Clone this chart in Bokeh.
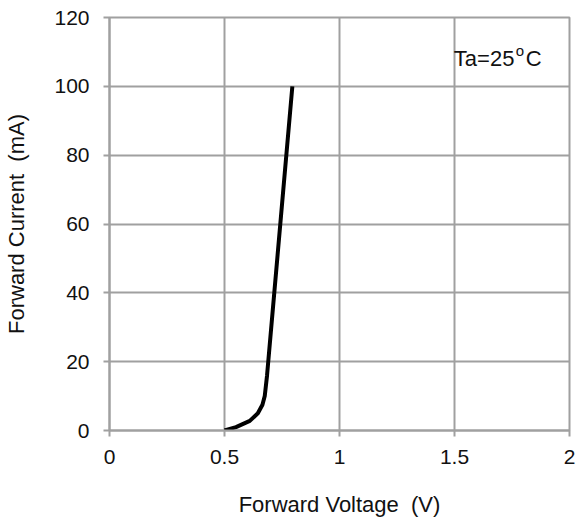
from bokeh.plotting import figure
from bokeh.models import Range1d, Label, FixedTicker
from bokeh.embed import file_html
from bokeh.resources import INLINE

# data
voltage = [0.50, 0.55, 0.61, 0.645, 0.665, 0.675, 0.685, 0.795]
current = [0.0, 1.0, 2.8, 5.0, 7.5, 10.0, 16.0, 100.0]
x_ticks = [0, 0.5, 1, 1.5, 2]
y_ticks = [0, 20, 40, 60, 80, 100, 120]

FONT = "Liberation Sans"
GRID = "#a0a0a0"

p = figure(width=576, height=519, output_backend="svg", toolbar_location=None,
           x_range=Range1d(0, 2), y_range=Range1d(0, 120),
           min_border_left=109, min_border_right=7, min_border_top=17, min_border_bottom=88)
p.background_fill_color = "white"
p.border_fill_color = "white"
p.outline_line_color = GRID
p.outline_line_width = 2

p.line(voltage, current, line_color="black", line_width=4)

for ax in (p.xaxis, p.yaxis):
    ax.axis_line_color = GRID
    ax.axis_line_width = 2
    ax.major_tick_line_color = GRID
    ax.major_tick_line_width = 2
    ax.major_tick_out = 6
    ax.major_tick_in = 0
    ax.minor_tick_line_color = None
    ax.major_label_text_font = FONT
    ax.major_label_text_font_size = "21px"
    ax.major_label_text_color = "#111111"
    ax.axis_label_text_font = FONT
    ax.axis_label_text_font_size = "22px"
    ax.axis_label_text_font_style = "normal"
    ax.axis_label_text_color = "#111111"

p.xaxis.ticker = FixedTicker(ticks=x_ticks)
p.yaxis.ticker = FixedTicker(ticks=y_ticks)
p.xaxis.major_label_overrides = {0: "0", 0.5: "0.5", 1: "1", 1.5: "1.5", 2: "2"}
p.xaxis.axis_label = "Forward Voltage\u00a0 (V)"
p.yaxis.axis_label = "Forward Current\u00a0 (mA)"
p.xaxis.major_label_standoff = 13
p.yaxis.major_label_standoff = 14
p.xaxis.axis_label_standoff = 25
p.yaxis.axis_label_standoff = 22

for g in (p.xgrid, p.ygrid):
    g.grid_line_color = GRID
    g.grid_line_width = 2
p.xgrid.ticker = FixedTicker(ticks=x_ticks)
p.ygrid.ticker = FixedTicker(ticks=y_ticks)

p.add_layout(Label(x=1.497, y=108, text="Ta=25", text_font=FONT, text_font_size="22px",
                   text_color="#111111", text_baseline="alphabetic"))
p.add_layout(Label(x=1.497, y=108, x_offset=62, y_offset=8, text="o", text_font=FONT,
                   text_font_size="15px", text_color="#111111", text_baseline="alphabetic"))
p.add_layout(Label(x=1.497, y=108, x_offset=72, text="C", text_font=FONT, text_font_size="22px",
                   text_color="#111111", text_baseline="alphabetic"))

open("out.html", "w").write(file_html(p, INLINE))
